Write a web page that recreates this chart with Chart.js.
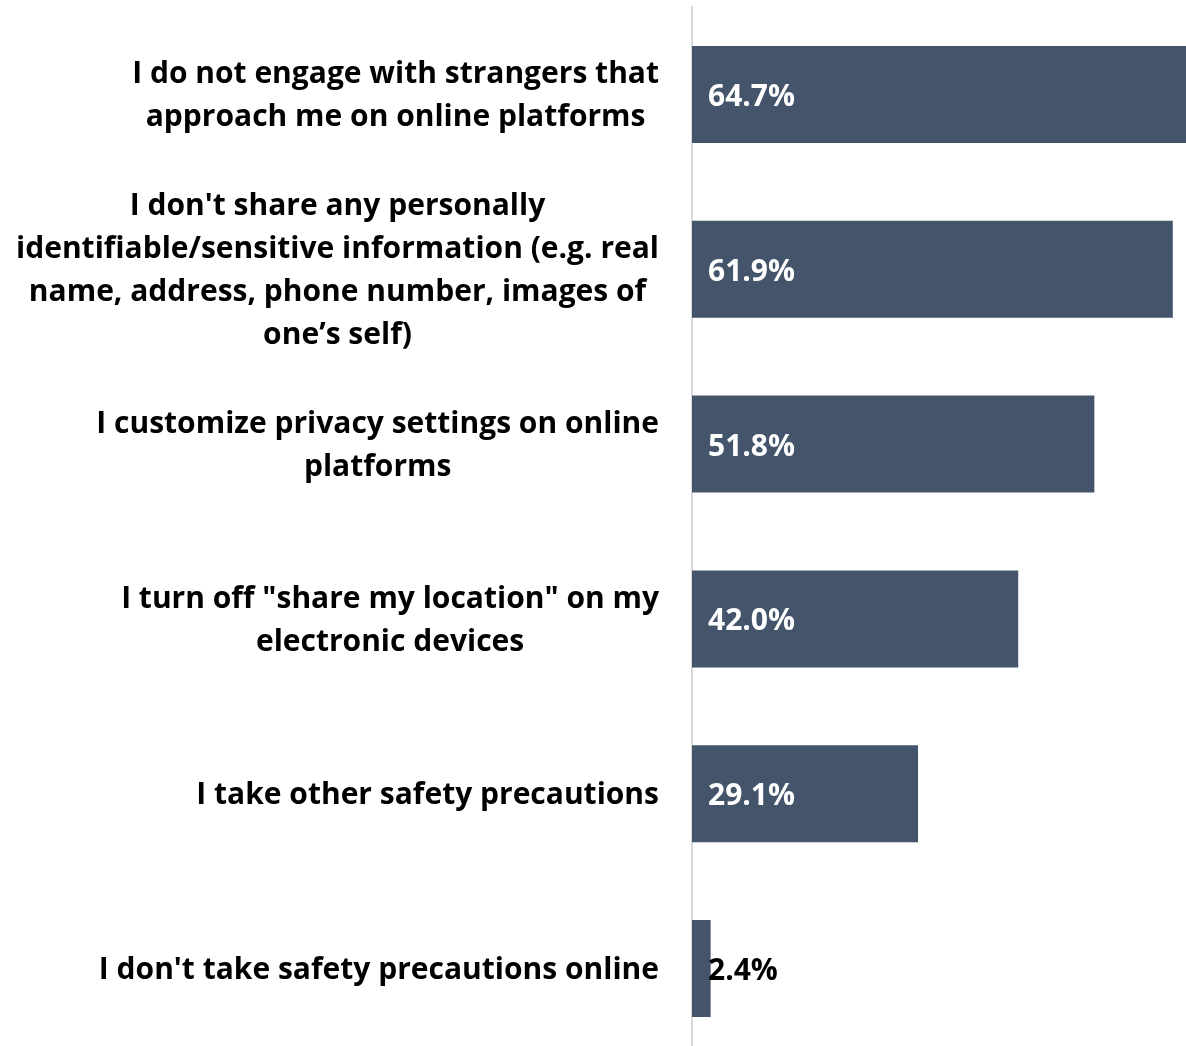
<!DOCTYPE html>
<html>
<head>
<meta charset="utf-8">
<script src="https://cdn.jsdelivr.net/npm/chart.js@4"></script>
<style>
  html, body { margin: 0; padding: 0; background: #ffffff; overflow: hidden; }
  #wrap { width: 1186px; height: 1056px; position: relative; }
</style>
</head>
<body>
<div id="wrap"><canvas id="chart"></canvas></div>
<script>
// Survey answers: online safety precautions
const categories = [
  ["I do not engage with strangers that", "approach me on online platforms"],
  ["I don't share any personally", "identifiable/sensitive information (e.g. real", "name, address, phone number, images of", "one\u2019s self)"],
  ["I customize privacy settings on online", "platforms"],
  ["I turn off \"share my location\" on my", "electronic devices"],
  ["I take other safety precautions"],
  ["I don't take safety precautions online"]
];
const shares = [64.7, 61.9, 51.8, 42.0, 29.1, 2.4];
const valueLabels = ["64.7%", "61.9%", "51.8%", "42.0%", "29.1%", "2.4%"];

const FONT = "bold 30px 'Open Sans', 'DejaVu Sans', sans-serif";
const LINE_H = 43;
const LABEL_RIGHT = 659;

// Category labels: each block right-aligned, its lines centred on one another
const categoryLabels = {
  id: 'categoryLabels',
  afterDraw(chart) {
    const ctx = chart.ctx;
    const y = chart.scales.y;
    ctx.save();
    ctx.font = FONT;
    ctx.fillStyle = '#000000';
    ctx.textAlign = 'center';
    ctx.textBaseline = 'middle';
    categories.forEach((lines, i) => {
      const widest = Math.max(...lines.map(l => ctx.measureText(l).width));
      const cx = LABEL_RIGHT - widest / 2;
      const cy = y.getPixelForValue(i) + 2;
      const top = cy - (lines.length - 1) * LINE_H / 2;
      lines.forEach((l, j) => ctx.fillText(l, cx, top + j * LINE_H));
    });
    ctx.restore();
  }
};

// Value labels at the inner end of each bar
const valueTags = {
  id: 'valueTags',
  afterDatasetsDraw(chart) {
    const ctx = chart.ctx;
    const meta = chart.getDatasetMeta(0);
    ctx.save();
    ctx.font = FONT;
    ctx.textAlign = 'left';
    ctx.textBaseline = 'middle';
    meta.data.forEach((bar, i) => {
      const x0 = chart.chartArea.left + 16;
      const inside = bar.x - chart.chartArea.left > 100;
      ctx.fillStyle = inside ? '#ffffff' : '#000000';
      ctx.fillText(valueLabels[i], x0, bar.y + 3);
    });
    ctx.restore();
  }
};

new Chart(document.getElementById('chart'), {
  type: 'bar',
  data: {
    labels: categories,
    datasets: [{
      data: shares,
      backgroundColor: '#44546A',
      borderWidth: 0,
      barPercentage: 0.555,
      categoryPercentage: 1.0
    }]
  },
  options: {
    indexAxis: 'y',
    responsive: true,
    maintainAspectRatio: false,
    animation: false,
    layout: { padding: { left: 692, top: 7, right: 0, bottom: 0 } },
    plugins: { legend: { display: false }, tooltip: { enabled: false } },
    scales: {
      x: { display: false, min: 0, max: 63.6 },
      y: {
        display: true,
        ticks: { display: false },
        grid: { display: false, drawTicks: false },
        border: { display: true, color: '#d9d9d9', width: 2 }
      }
    }
  },
  plugins: [categoryLabels, valueTags]
});
</script>
</body>
</html>
